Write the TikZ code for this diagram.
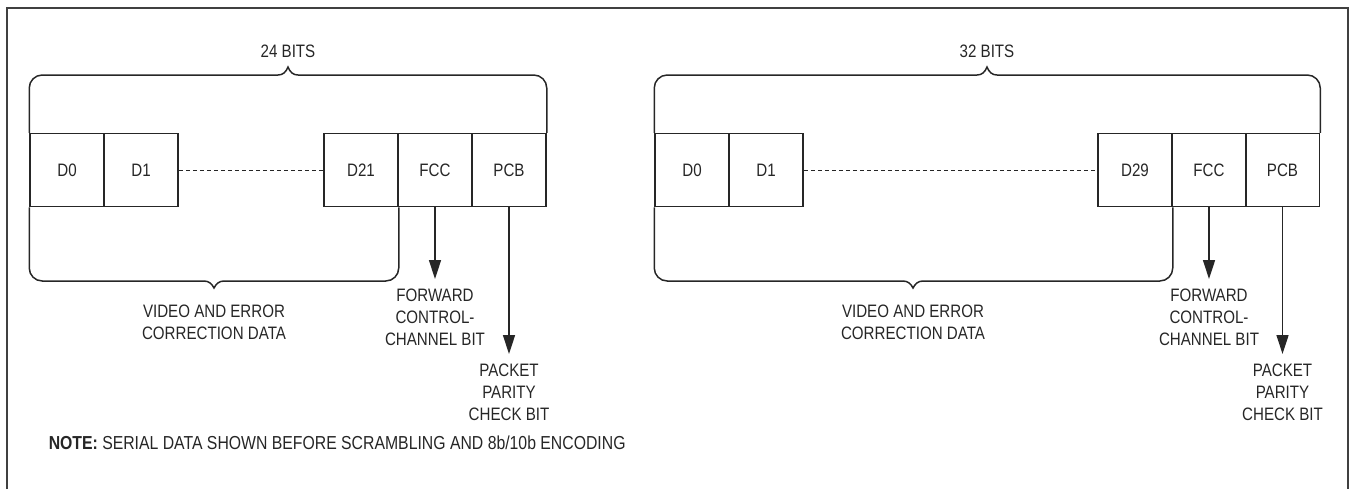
\documentclass[tikz,border=0pt]{standalone}
\usepackage{fontspec}
\setmainfont{Liberation Sans}[FakeStretch=0.84]
\usetikzlibrary{arrows.meta,positioning}

\begin{document}
\begin{tikzpicture}[x=0.5pt, y=-0.5pt, line width=0.75pt, color=black!85,
    font=\fontsize{9pt}{11pt}\selectfont,
    bitbox/.style={rectangle, draw, minimum width=37pt, minimum height=36.5pt, inner sep=0pt},
    lbl/.style={align=center, inner sep=0pt},
    brace/.style={rounded corners=6.5pt},
    pointer/.style={-{Triangle[length=9.5pt,width=6pt]}}]
    \useasboundingbox (0,0) rectangle (1352,489);

    % Outer frame
    \draw[line width=1.3pt, black!75] (7,489) -- (7,8) -- (1348,8) -- (1348,489);

    % Left packet - 24 bits
    \node[bitbox] (d0A) at (67,170) {D0};
    \node[bitbox] (d1A) at (141,170) {D1};
    \node[bitbox] (d21A) at (361,170) {D21};
    \node[bitbox] (fccA) at (435,170) {FCC};
    \node[bitbox] (pcbA) at (509,170) {PCB};
    \draw[dash pattern=on 2pt off 1.5pt, line width=0.5pt] (d1A) -- (d21A);

    % Top brace
    \coordinate (topA) at (288,67);
    \draw[brace] (d0A.north west) |- (278,75);
    \draw (278,75) .. controls (283,75) and (286,72) .. (topA) .. controls (290,72) and (293,75) .. (298,75);
    \draw[brace] (298,75) -| (pcbA.north east);
    \node[lbl, above=4.25pt of topA] (bitsA) {24 BITS};

    % Bottom brace
    \coordinate (botA) at (214,288);
    \draw[brace] (d0A.south west) |- (204,281);
    \draw (204,281) .. controls (209,281) and (212,284) .. (botA) .. controls (216,284) and (219,281) .. (224,281);
    \draw[brace] (224,281) -| (d21A.south east);
    \node[lbl, below=8pt of botA] (videoA) {VIDEO AND ERROR\\CORRECTION DATA};

    % Arrows
    \coordinate (fccendA) at (435,279);
    \coordinate (pcbendA) at (509,354);
    \draw[pointer] (fccA.south) -- (fccendA);
    \draw[pointer] (pcbA.south) -- (pcbendA);
    \node[lbl, below=4.5pt of fccendA] (fwdA) {FORWARD\\CONTROL-\\CHANNEL BIT};
    \node[lbl, below=4.75pt of pcbendA] (parA) {PACKET\\PARITY\\CHECK BIT};

    % Right packet - 32 bits
    \node[bitbox] (d0B) at (692,170) {D0};
    \node[bitbox] (d1B) at (766,170) {D1};
    \node[bitbox] (d29B) at (1135,170) {D29};
    \node[bitbox] (fccB) at (1209,170) {FCC};
    \node[bitbox] (pcbB) at (1282.5,170) {PCB};
    \draw[dash pattern=on 2pt off 1.5pt, line width=0.5pt] (d1B) -- (d29B);

    % Top brace
    \coordinate (topB) at (987,67);
    \draw[brace] (d0B.north west) |- (977,75);
    \draw (977,75) .. controls (982,75) and (985,72) .. (topB) .. controls (989,72) and (992,75) .. (997,75);
    \draw[brace] (997,75) -| (pcbB.north east);
    \node[lbl, above=4.25pt of topB] (bitsB) {32 BITS};

    % Bottom brace
    \coordinate (botB) at (913,288);
    \draw[brace] (d0B.south west) |- (903,281);
    \draw (903,281) .. controls (908,281) and (911,284) .. (botB) .. controls (915,284) and (918,281) .. (923,281);
    \draw[brace] (923,281) -| (d29B.south east);
    \node[lbl, below=8pt of botB] (videoB) {VIDEO AND ERROR\\CORRECTION DATA};

    % Arrows
    \coordinate (fccendB) at (1209,279);
    \coordinate (pcbendB) at (1282.5,354);
    \draw[pointer] (fccB.south) -- (fccendB);
    \draw[pointer] (pcbB.south) -- (pcbendB);
    \node[lbl, below=4.5pt of fccendB] (fwdB) {FORWARD\\CONTROL-\\CHANNEL BIT};
    \node[lbl, below=4.75pt of pcbendB] (parB) {PACKET\\PARITY\\CHECK BIT};

    % Note
    \node[lbl, anchor=west, font=\fontsize{9.4pt}{11pt}\selectfont] (note) at (48,443) {\textbf{NOTE:} SERIAL DATA SHOWN BEFORE SCRAMBLING AND 8b/10b ENCODING};
\end{tikzpicture}
\end{document}
